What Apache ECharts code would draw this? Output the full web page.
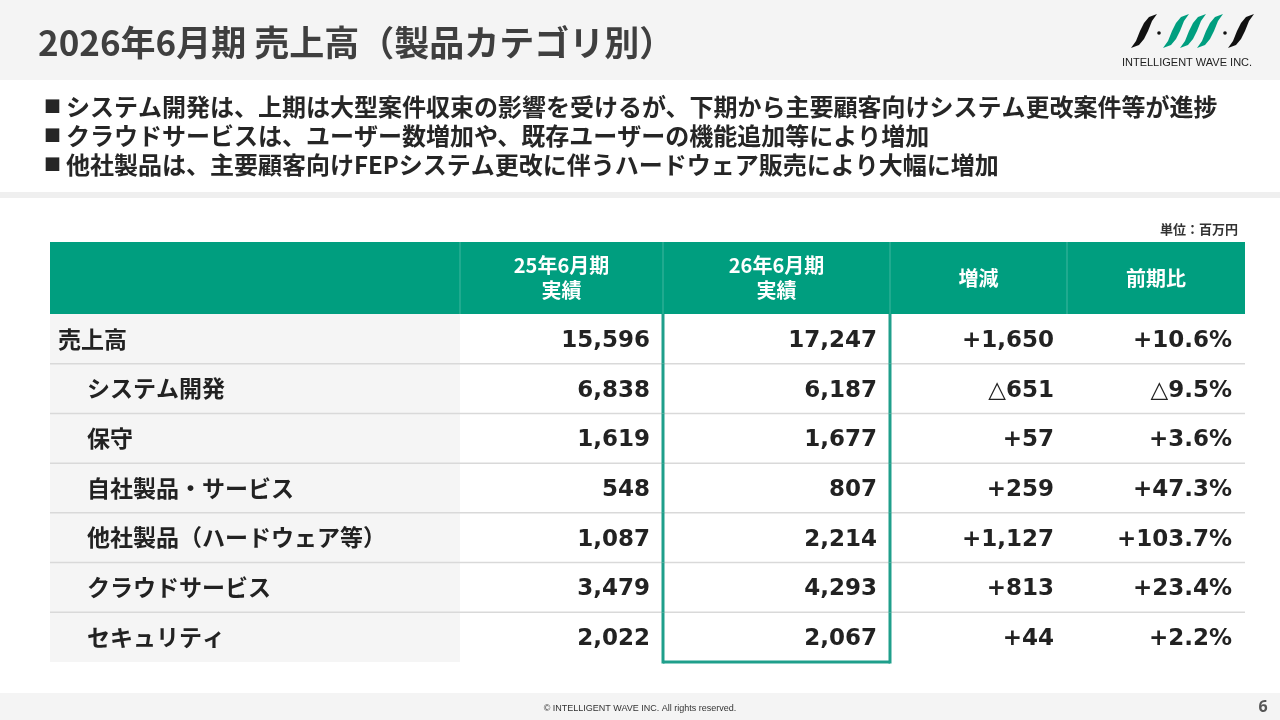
<!DOCTYPE html>
<html lang="ja">

<head>
    <meta charset="UTF-8">
    <title>2026年6月期 売上高（製品カテゴリ別）</title>
    <script src="https://cdn.jsdelivr.net/npm/echarts@6.0.0/dist/echarts.min.js"></script>
    <style>
        body,
        html {
            margin: 0;
            padding: 0;
            background: #fff;
        }

        #main {
            width: 1280px;
            height: 720px;
        }
    </style>
</head>

<body>
    <div id="main"></div>
    <script>
        // 表のデータ（単位：百万円）
        var rowLabels = ['売上高', 'システム開発', '保守', '自社製品・サービス', '他社製品（ハードウェア等）', 'クラウドサービス', 'セキュリティ'];
        var fy25 = [15596, 6838, 1619, 548, 1087, 3479, 2022];
        var fy26 = [17247, 6187, 1677, 807, 2214, 4293, 2067];
        var diff = [1650, -651, 57, 259, 1127, 813, 44];
        var ratio = [10.6, -9.5, 3.6, 47.3, 103.7, 23.4, 2.2];
        var headers = ['', '25年6月期\n実績', '26年6月期\n実績', '増減', '前期比'];
        var bullets = [
            'システム開発は、上期は大型案件収束の影響を受けるが、下期から主要顧客向けシステム更改案件等が進捗',
            'クラウドサービスは、ユーザー数増加や、既存ユーザーの機能追加等により増加',
            '他社製品は、主要顧客向けFEPシステム更改に伴うハードウェア販売により大幅に増加'
        ];

        var jpFont = '"Noto Sans CJK JP", sans-serif';
        var numFont = '"DejaVu Sans", "Noto Sans CJK JP", sans-serif';
        var teal = '#009e7f';
        var frame = '#1f9f8b';
        // 列の区切り（表の左端からの幅）
        var colEdges = [0, 410, 613, 840, 1017, 1195];

        function fmtNum(v) {
            return v.toLocaleString('en-US');
        }
        function fmtDiff(v) {
            return (v < 0 ? '△' : '+') + Math.abs(v).toLocaleString('en-US');
        }
        function fmtRatio(v) {
            return (v < 0 ? '△' : '+') + Math.abs(v).toFixed(1) + '%';
        }
        function cellText(c, r) {
            if (c == 0) return rowLabels[r];
            if (c == 1) return fmtNum(fy25[r]);
            if (c == 2) return fmtNum(fy26[r]);
            if (c == 3) return fmtDiff(diff[r]);
            return fmtRatio(ratio[r]);
        }

        var bodyData = [];
        for (var r = 0; r < rowLabels.length; r++) {
            for (var c = 0; c < headers.length; c++) {
                bodyData.push([c, r]);
            }
        }
        var headData = [];
        for (var c = 0; c < headers.length; c++) {
            headData.push([c, 0]);
        }

        function renderHead(params, api) {
            var c = api.value(0);
            var a = api.coord([colEdges[c], 0]);
            var b = api.coord([colEdges[c + 1], 0]);
            var h = api.size([0, 1])[1];
            var children = [{
                type: 'rect',
                shape: { x: a[0], y: a[1] - h / 2, width: b[0] - a[0], height: h },
                style: { fill: teal }
            }, {
                type: 'text',
                style: {
                    text: headers[c],
                    x: (a[0] + b[0]) / 2,
                    y: a[1],
                    fill: '#fff',
                    font: 'bold 20px ' + jpFont,
                    lineHeight: 25,
                    align: 'center',
                    verticalAlign: 'middle'
                },
                z2: 5
            }];
            if (c > 0) {
                children.push({
                    type: 'line',
                    shape: { x1: a[0], y1: a[1] - h / 2, x2: a[0], y2: a[1] + h / 2 },
                    style: { stroke: 'rgba(255,255,255,0.25)', lineWidth: 1 },
                    z2: 4
                });
            }
            return { type: 'group', children: children };
        }

        function renderBody(params, api) {
            var c = api.value(0);
            var r = api.value(1);
            var a = api.coord([colEdges[c], r]);
            var b = api.coord([colEdges[c + 1], r]);
            var h = api.size([0, 1])[1];
            var y0 = a[1] - h / 2;
            var y1 = a[1] + h / 2;
            var last = r == rowLabels.length - 1;
            var children = [{
                type: 'rect',
                shape: { x: a[0], y: y0, width: b[0] - a[0], height: h },
                style: { fill: c == 0 ? '#f5f5f5' : '#fff' }
            }];
            if (!last) {
                children.push({
                    type: 'line',
                    shape: { x1: a[0], y1: y1, x2: b[0], y2: y1 },
                    style: { stroke: '#d9d9d9', lineWidth: 1.5 },
                    z2: 2
                });
            }
            if (c == 0) {
                children.push({
                    type: 'text',
                    style: {
                        text: cellText(c, r),
                        x: a[0] + (r == 0 ? 8 : 37),
                        y: a[1],
                        fill: '#222',
                        font: 'bold 23px ' + jpFont,
                        align: 'left',
                        verticalAlign: 'middle'
                    },
                    z2: 5
                });
            } else {
                children.push({
                    type: 'text',
                    style: {
                        text: cellText(c, r),
                        x: b[0] - 13,
                        y: a[1] + 2,
                        fill: '#222',
                        font: 'bold 23px ' + numFont,
                        align: 'right',
                        verticalAlign: 'middle'
                    },
                    z2: 5
                });
            }
            // 26年6月期の列を囲む枠
            if (c == 2) {
                children.push({
                    type: 'line',
                    shape: { x1: a[0], y1: y0, x2: a[0], y2: y1 + (last ? 1.5 : 0) },
                    style: { stroke: frame, lineWidth: 3 },
                    z2: 10
                }, {
                    type: 'line',
                    shape: { x1: b[0], y1: y0, x2: b[0], y2: y1 + (last ? 1.5 : 0) },
                    style: { stroke: frame, lineWidth: 3 },
                    z2: 10
                });
                if (last) {
                    children.push({
                        type: 'line',
                        shape: { x1: a[0], y1: y1, x2: b[0], y2: y1 },
                        style: { stroke: frame, lineWidth: 3 },
                        z2: 10
                    });
                }
            }
            return { type: 'group', children: children };
        }

        // ロゴの斜めの線
        function leaf(cx, color) {
            return {
                type: 'polygon',
                shape: {
                    points: [
                        [cx + 13, 14], [cx + 5, 17], [cx, 23], [cx - 4, 31], [cx - 8, 41], [cx - 13, 48],
                        [cx - 5, 45], [cx, 39], [cx + 4, 31], [cx + 8, 21]
                    ]
                },
                style: { fill: color }
            };
        }

        var graphics = [
            { type: 'rect', shape: { x: 0, y: 0, width: 1280, height: 80 }, style: { fill: '#f4f4f4' }, z: 0 },
            { type: 'rect', shape: { x: 0, y: 192, width: 1280, height: 6 }, style: { fill: '#efefef' }, z: 0 },
            { type: 'rect', shape: { x: 0, y: 693, width: 1280, height: 27 }, style: { fill: '#f4f4f4' }, z: 0 },
            {
                type: 'text', x: 38, y: 43,
                style: { text: '2026年6月期 売上高（製品カテゴリ別）', font: 'bold 35px ' + jpFont, fill: '#3f3f3f', verticalAlign: 'middle' }
            },
            {
                type: 'text', x: 1238, y: 229,
                style: { text: '単位：百万円', font: 'bold 13px ' + jpFont, fill: '#333', align: 'right', verticalAlign: 'middle' }
            },
            {
                type: 'text', x: 640, y: 709,
                style: { text: '© INTELLIGENT WAVE INC. All rights reserved.', font: '9px "Liberation Sans Narrow", "Liberation Sans", sans-serif', fill: '#333', align: 'center', verticalAlign: 'middle' }
            },
            {
                type: 'text', x: 1263, y: 707,
                style: { text: '6', font: 'bold 16px "Noto Sans", sans-serif', fill: '#555', align: 'center', verticalAlign: 'middle' }
            },
            {
                type: 'text', x: 1187, y: 63,
                style: { text: 'INTELLIGENT WAVE INC.', font: '11px "Liberation Sans Narrow", "Liberation Sans", sans-serif', fill: '#222', align: 'center', verticalAlign: 'middle' }
            },
            leaf(1144, '#111'),
            leaf(1176, teal),
            leaf(1193, teal),
            leaf(1210, teal),
            leaf(1241, '#111'),
            { type: 'circle', shape: { cx: 1159, cy: 33, r: 1.8 }, style: { fill: '#111' } },
            { type: 'circle', shape: { cx: 1225, cy: 33, r: 1.8 }, style: { fill: '#111' } }
        ];
        for (var i = 0; i < bullets.length; i++) {
            graphics.push({
                type: 'text', x: 44, y: 107 + i * 29,
                style: { text: '■', font: 'bold 17px ' + jpFont, fill: '#262626', verticalAlign: 'middle' }
            }, {
                type: 'text', x: 66, y: 107 + i * 29,
                style: { text: bullets[i], font: 'bold 24px ' + jpFont, fill: '#262626', verticalAlign: 'middle' }
            });
        }

        var myChart = echarts.init(document.getElementById('main'));
        var option = {
            animation: false,
            backgroundColor: '#fff',
            grid: [
                { left: 50, top: 242, width: 1195, height: 72 },
                { left: 50, top: 314, width: 1195, height: 348 }
            ],
            xAxis: [
                { type: 'value', gridIndex: 0, min: 0, max: 1195, show: false },
                { type: 'value', gridIndex: 1, min: 0, max: 1195, show: false }
            ],
            yAxis: [
                { type: 'category', gridIndex: 0, data: ['header'], show: false },
                { type: 'category', gridIndex: 1, data: rowLabels, inverse: true, show: false }
            ],
            graphic: graphics,
            series: [{
                type: 'custom',
                xAxisIndex: 0,
                yAxisIndex: 0,
                data: headData,
                renderItem: renderHead
            }, {
                type: 'custom',
                xAxisIndex: 1,
                yAxisIndex: 1,
                data: bodyData,
                renderItem: renderBody
            }]
        };
        myChart.setOption(option);
    </script>
</body>

</html>
